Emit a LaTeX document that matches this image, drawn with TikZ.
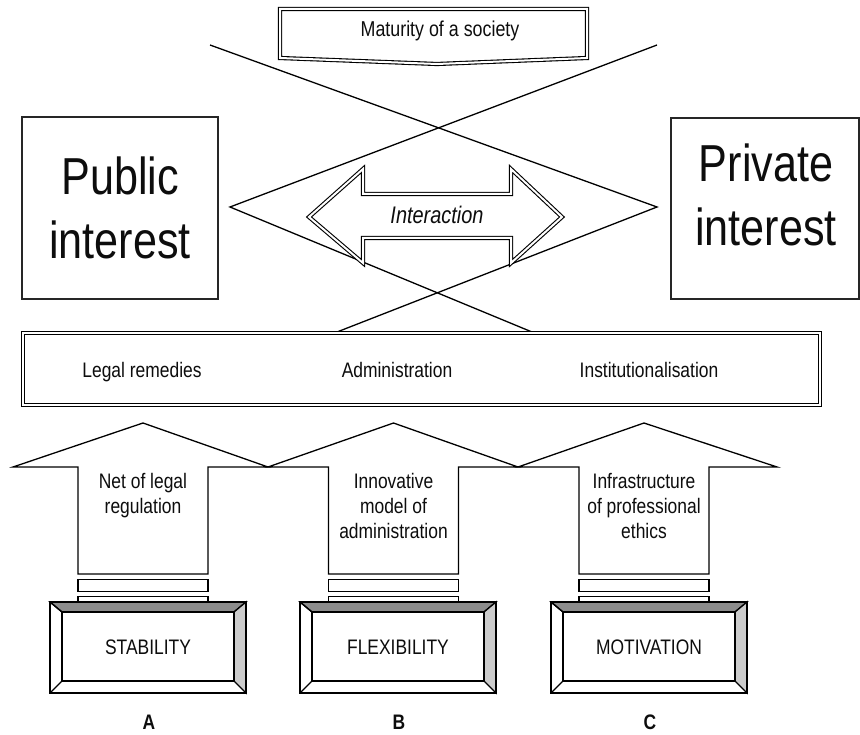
\documentclass[tikz,border=0pt]{standalone}
\usepackage{fontspec}
\setmainfont{Liberation Sans}[FakeStretch=0.83]
\begin{document}
\begin{tikzpicture}[x=1pt, y=-1pt, line width=1.3pt, line join=miter,
	every node/.style={text=black!95, inner sep=0pt, align=center, font=\fontsize{21}{25}\selectfont},
	dbl/.style={draw=black, double=white, double distance=2pt, line width=1.1pt},
	big/.style={font=\fontsize{52}{64}\selectfont},
	bevel/.style={draw=black, line width=1.3pt}]

	\useasboundingbox (0,0) rectangle (860,735);

	\draw[dbl, fill=white] (280,9) -- (587,9) -- (587,58) -- (437,64) -- (280,58) -- cycle;
	\node[anchor=base, font=\fontsize{21.5}{25}\selectfont] (maturity) at (440,37) {Maturity of a society};

	\draw (210,45) -- (657,207) -- (337,332);
	\draw (657,45) -- (230,207) -- (532,332);

	\draw[dbl, fill=white] (309,217) -- (363,169) -- (363,194) -- (511,194) -- (511,169) -- (562,217) -- (511,263) -- (511,238) -- (363,238) -- (363,263) -- cycle;
	\node[anchor=base, font=\itshape\fontsize{24}{28}\selectfont] (interaction) at (437,224) {Interaction};

	\draw[draw=black!85] (22,117) rectangle (218,299);
	\node[big] (public) at (120,208) {Public\\interest};
	\draw[draw=black!85] (671,118) rectangle (859,299);
	\node[big] (private) at (766,195) {Private\\interest};

	\draw[dbl, fill=white] (23,333) rectangle (820,405);
	\node[anchor=base] (remedies) at (142,378) {Legal remedies};
	\node[anchor=base] (admin) at (397,378) {Administration};
	\node[anchor=base] (inst) at (649,378) {Institutionalisation};

	\foreach \x/\l/\r in {143/13/268, 393.5/268/518, 644/518/777} {
		\draw[fill=white] (\x-65,574) -- (\x-65,467) -- (\l,467) -- (\x,423) -- (\r,467) -- (\x+65,467) -- (\x+65,574) -- cycle;
		\draw (\x-65,579.5) rectangle (\x+65,591.5);
		\draw (\x-65,596.5) rectangle (\x+65,604);
	}
	\node[anchor=north] (netlegal) at (143,472.7) {Net of legal\\regulation};
	\node[anchor=north] (innov) at (393.5,472.7) {Innovative\\model of\\administration};
	\node[anchor=north] (infra) at (644,472.7) {Infrastructure\\of professional\\ethics};

	\foreach \x/\t/\c in {148/STABILITY/A, 398/FLEXIBILITY/B, 649/MOTIVATION/C} {
		\fill[white] (\x-98,602) rectangle (\x+98,693);
		\filldraw[bevel, fill=black!45] (\x-98,602) -- (\x+98,602) -- (\x+86,612) -- (\x-86,612) -- cycle;
		\filldraw[bevel, fill=black!20] (\x+98,602) -- (\x+98,693) -- (\x+86,681) -- (\x+86,612) -- cycle;
		\draw[bevel] (\x-98,602) rectangle (\x+98,693);
		\draw[bevel] (\x-86,612) rectangle (\x+86,681);
		\draw[bevel] (\x-98,693) -- (\x-86,681) (\x-98,602) -- (\x-86,612);
		\node (box\c) at (\x,647) {\t};
		\node[font=\bfseries\fontsize{21}{24}\selectfont] (lab\c) at (\x+1,722) {\c};
	}
\end{tikzpicture}
\end{document}
